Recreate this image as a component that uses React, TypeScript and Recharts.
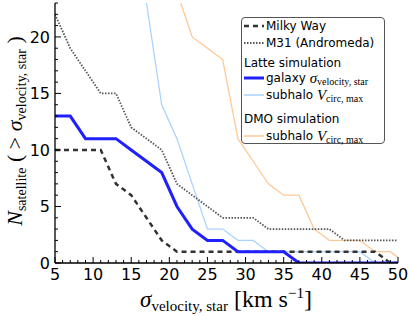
import { LineChart, Line, XAxis, YAxis, Legend } from "recharts"

// bin centres of sigma_velocity,star [km/s]
const sigma = [5, 7, 9, 11, 13, 15, 17, 19, 21, 23, 25, 27, 29, 31, 33, 35, 37, 39, 41, 43, 45, 47, 49, 51]
const milkyWay = [10, 10, 10, 10, 7, 6, 4, 2, 1, 1, 1, 1, 1, 1, 1, 1, 1, 1, 1, 1, 1, 1, 0, 0]
const m31 = [22, 19, 17, 15, 15, 12, 11, 10, 7, 6, 5, 4, 4, 4, 3, 3, 3, 3, 3, 2, 2, 2, 2, 2]
const latteGalaxy = [13, 13, 11, 11, 11, 10, 9, 8, 5, 3, 2, 2, 1, 1, 1, 1, 0, 0, 0, 0, 0, 0, 0, 0]
const latteSubhalo = [null, null, null, null, null, 28, 23, 14, 11, 7, 3, 3, 2, 2, 1, 1, 1, 1, 1, 1, 1, 0, 0, 0]
const dmoSubhalo = [null, null, null, null, null, null, null, 30, 24, 20, 19, 18, 11, 9, 7, 6, 6, 3, 2, 2, 2, 1, 1, 0]

const xTicks = Array.from({ length: 46 }, (_, i) => 5 + i)
const yTicks = Array.from({ length: 24 }, (_, i) => i)

const data = sigma.map((s, i) => ({
  sigma: s,
  milkyWay: milkyWay[i],
  m31: m31[i],
  latteGalaxy: latteGalaxy[i],
  latteSubhalo: latteSubhalo[i],
  dmoSubhalo: dmoSubhalo[i],
}))

const SANS = "DejaVu Sans"
const SERIF = "Liberation Serif"

const tickLen = (v: number) => (v % 5 === 0 ? 6 : 3)

const BottomTick = ({ x, y, payload }: any) => (
  <g>
    <line x1={x} x2={x} y1={y} y2={y - tickLen(payload.value)} stroke="#000" />
    {payload.value % 5 === 0 && (
      <text x={x} y={y + 5} dy="0.74em" textAnchor="middle" fontSize={16} fontFamily={SANS} fill="#000">
        {payload.value}
      </text>
    )}
  </g>
)

const TopTick = ({ x, y, payload }: any) => (
  <line x1={x} x2={x} y1={y} y2={y + tickLen(payload.value)} stroke="#000" />
)

const LeftTick = ({ x, y, payload }: any) => (
  <g>
    <line x1={x} x2={x + tickLen(payload.value)} y1={y} y2={y} stroke="#000" />
    {payload.value % 5 === 0 && (
      <text x={x - 5} y={y} dy="0.36em" textAnchor="end" fontSize={16} fontFamily={SANS} fill="#000">
        {payload.value}
      </text>
    )}
  </g>
)

const RightTick = ({ x, y, payload }: any) => (
  <line x1={x} x2={x - tickLen(payload.value)} y1={y} y2={y} stroke="#000" />
)

const XTitle = () => (
  <text x={226} y={307} textAnchor="middle" fontFamily={SERIF} fill="#000">
    <tspan fontSize={23} fontStyle="italic">σ</tspan>
    <tspan fontSize={15} dy={4}>velocity, star</tspan>
    <tspan fontSize={24} dy={-4}> [km s</tspan>
    <tspan fontSize={15} dy={-9}>−1</tspan>
    <tspan fontSize={24} dy={9}>]</tspan>
  </text>
)

const YTitle = () => (
  <text x={22} y={131} transform="rotate(-90 22 131)" textAnchor="middle" fontFamily={SERIF} fill="#000">
    <tspan fontSize={22} fontStyle="italic">N</tspan>
    <tspan fontSize={14} dy={4}>satellite</tspan>
    <tspan fontSize={22} dy={-4}> ( &gt; </tspan>
    <tspan fontSize={22} fontStyle="italic">σ</tspan>
    <tspan fontSize={14} dy={4}>velocity, star</tspan>
    <tspan fontSize={22} dy={-4}> )</tspan>
  </text>
)

const Sample = ({ color, width, dash }: { color: string; width: number; dash?: string }) => (
  <svg width={20} height={8} style={{ marginRight: 2, flex: "none" }}>
    <line x1={0} x2={20} y1={4} y2={4} stroke={color} strokeWidth={width} strokeDasharray={dash} />
  </svg>
)

const row = (top: number, left = 2) => ({
  position: "absolute" as const,
  top: top - 8,
  left,
  height: 16,
  display: "flex",
  alignItems: "center",
  whiteSpace: "nowrap" as const,
})

const LegendBox = () => (
  <div
    style={{
      position: "relative",
      width: 144,
      height: 127,
      boxSizing: "border-box",
      border: "1px solid #555",
      borderRadius: 4,
      background: "#fff",
      fontFamily: SANS,
      fontSize: 12,
      color: "#000",
    }}
  >
    <div style={row(8)}>
      <Sample color="#333" width={2.5} dash="5 4" />
      Milky Way
    </div>
    <div style={row(25)}>
      <Sample color="#555" width={1.8} dash="1.5 1.5" />
      M31 (Andromeda)
    </div>
    <div style={row(45)}>Latte simulation</div>
    <div style={row(60)}>
      <Sample color="#2020ff" width={3} />
      galaxy&nbsp;
      <span style={{ fontFamily: SERIF, fontStyle: "italic", fontSize: 15 }}>σ</span>
      <span style={{ fontFamily: SERIF, fontSize: 10, position: "relative", top: 3 }}>velocity, star</span>
    </div>
    <div style={row(77)}>
      <Sample color="#aad2ff" width={1.5} />
      subhalo&nbsp;
      <span style={{ fontFamily: SERIF, fontStyle: "italic", fontSize: 15 }}>V</span>
      <span style={{ fontFamily: SERIF, fontSize: 10, position: "relative", top: 3 }}>circ, max</span>
    </div>
    <div style={row(101)}>DMO simulation</div>
    <div style={row(118)}>
      <Sample color="#ffc896" width={1.5} />
      subhalo&nbsp;
      <span style={{ fontFamily: SERIF, fontStyle: "italic", fontSize: 15 }}>V</span>
      <span style={{ fontFamily: SERIF, fontSize: 10, position: "relative", top: 3 }}>circ, max</span>
    </div>
  </div>
)

export default function App() {
  return (
    <>
      <style>{"body{margin:0}"}</style>
      <LineChart width={410} height={316} data={data} margin={{ top: 3, right: 12, bottom: 0, left: 0 }}>
        <XAxis
          xAxisId="x"
          dataKey="sigma"
          type="number"
          domain={[5, 50]}
          allowDataOverflow
          ticks={xTicks}
          interval={0}
          height={53}
          tickSize={0}
          tickMargin={0}
          tickLine={false}
          axisLine={{ stroke: "#000", strokeWidth: 1.3 }}
          tick={<BottomTick />}
          label={<XTitle />}
        />
        <XAxis
          xAxisId="top"
          orientation="top"
          type="number"
          domain={[5, 50]}
          allowDataOverflow
          ticks={xTicks}
          interval={0}
          height={0}
          tickSize={0}
          tickMargin={0}
          tickLine={false}
          axisLine={{ stroke: "#000", strokeWidth: 1.3 }}
          tick={<TopTick />}
        />
        <YAxis
          yAxisId="y"
          type="number"
          domain={[0, 23]}
          allowDataOverflow
          ticks={yTicks}
          interval={0}
          width={55}
          tickSize={0}
          tickMargin={0}
          tickLine={false}
          axisLine={{ stroke: "#000", strokeWidth: 1.3 }}
          tick={<LeftTick />}
          label={<YTitle />}
        />
        <YAxis
          yAxisId="right"
          orientation="right"
          type="number"
          domain={[0, 23]}
          allowDataOverflow
          ticks={yTicks}
          interval={0}
          width={0}
          tickSize={0}
          tickMargin={0}
          tickLine={false}
          axisLine={{ stroke: "#000", strokeWidth: 1.3 }}
          tick={<RightTick />}
        />
        <Line xAxisId="x" yAxisId="y" dataKey="dmoSubhalo" stroke="#ffc896" strokeWidth={1.3} dot={false} isAnimationActive={false} />
        <Line xAxisId="x" yAxisId="y" dataKey="latteSubhalo" stroke="#aad2ff" strokeWidth={1.3} dot={false} isAnimationActive={false} />
        <Line xAxisId="x" yAxisId="y" dataKey="m31" stroke="#555" strokeWidth={1.8} strokeDasharray="1.5 1.5" dot={false} isAnimationActive={false} />
        <Line xAxisId="x" yAxisId="y" dataKey="milkyWay" stroke="#333" strokeWidth={2.5} strokeDasharray="5 4" dot={false} isAnimationActive={false} />
        <Line xAxisId="x" yAxisId="y" dataKey="latteGalaxy" stroke="#2020ff" strokeWidth={3} dot={false} isAnimationActive={false} />
        <Legend
          layout="vertical"
          align="center"
          verticalAlign="middle"
          wrapperStyle={{ top: 17, left: 241, width: 144, height: 127 }}
          content={() => <LegendBox />}
        />
      </LineChart>
    </>
  )
}
